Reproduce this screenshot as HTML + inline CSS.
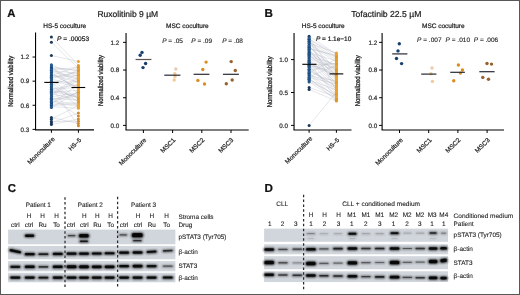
<!DOCTYPE html>
<html><head><meta charset="utf-8"><style>
html,body{margin:0;padding:0;background:#fff;}
body{width:520px;height:295px;overflow:hidden;}
svg{display:block;font-family:"Liberation Sans", sans-serif;will-change:transform;text-rendering:geometricPrecision;}
</style></head><body>
<svg width="520" height="295" viewBox="0 0 520 295">
<defs><filter id="bl" x="-50%" y="-100%" width="200%" height="300%"><feGaussianBlur stdDeviation="0.8"/></filter></defs>
<rect x="0" y="0" width="520" height="295" fill="#fff"/>
<text x="7.2" y="16.8" font-size="11.3" text-anchor="start" font-weight="bold" fill="#111" stroke="#111" stroke-width="0.22"  style="">A</text>
<text x="127.8" y="16.9" font-size="8.5" text-anchor="middle" font-weight="normal" fill="#222" stroke="#222" stroke-width="0.22"  style="">Ruxolitinib 9 µM</text>
<text x="0" y="0" font-size="7" text-anchor="middle" fill="#222" stroke="#222" stroke-width="0.3" transform="translate(12.9 81.3) rotate(-90) scale(0.846 1)">Normalized viability</text>
<text x="64.7" y="28" font-size="6.5" text-anchor="middle" font-weight="normal" fill="#222" stroke="#222" stroke-width="0.22"  style="">HS-5 coculture</text>
<line x1="35.55" y1="32.6" x2="35.55" y2="130" stroke="#000" stroke-width="1.1" />
<line x1="32.55" y1="57.040000000000006" x2="35.55" y2="57.040000000000006" stroke="#000" stroke-width="1.0" />
<text x="29.3" y="59.34" font-size="6.3" text-anchor="end" font-weight="normal" fill="#333" stroke="#333" stroke-width="0.22"  style="">1.2</text>
<line x1="32.55" y1="81.16" x2="35.55" y2="81.16" stroke="#000" stroke-width="1.0" />
<text x="29.3" y="83.46" font-size="6.3" text-anchor="end" font-weight="normal" fill="#333" stroke="#333" stroke-width="0.22"  style="">0.9</text>
<line x1="32.55" y1="105.28" x2="35.55" y2="105.28" stroke="#000" stroke-width="1.0" />
<text x="29.3" y="107.58" font-size="6.3" text-anchor="end" font-weight="normal" fill="#333" stroke="#333" stroke-width="0.22"  style="">0.6</text>
<line x1="32.55" y1="129.4" x2="35.55" y2="129.4" stroke="#000" stroke-width="1.0" />
<text x="29.3" y="131.70000000000002" font-size="6.3" text-anchor="end" font-weight="normal" fill="#333" stroke="#333" stroke-width="0.22"  style="">0.3</text>
<line x1="35.05" y1="129.9" x2="94" y2="129.9" stroke="#000" stroke-width="1.1" />
<line x1="51.4" y1="130" x2="51.4" y2="132.8" stroke="#000" stroke-width="1" />
<line x1="78.4" y1="130" x2="78.4" y2="132.8" stroke="#000" stroke-width="1" />
<text x="55.2" y="139.5" font-size="6.5" text-anchor="end" font-weight="normal" fill="#222" stroke="#222" stroke-width="0.22" transform="rotate(-45 55.2 139.5)" style="">Monoculture</text>
<text x="81.5" y="140.5" font-size="6.0" text-anchor="end" font-weight="normal" fill="#222" stroke="#222" stroke-width="0.22" transform="rotate(-45 81.5 140.5)" style="">HS–5</text>
<text x="57" y="40.6" font-size="6.6" text-anchor="start" font-weight="normal" fill="#222" stroke="#222" stroke-width="0.22"  style=""><tspan font-style="italic">P</tspan> = .00053</text>
<g stroke="#aeb3bd" stroke-width="0.5" stroke-opacity="0.62"><line x1="51.4" y1="37.02" x2="78.4" y2="65.39"/><line x1="51.4" y1="42.17" x2="78.4" y2="68.40"/><line x1="51.4" y1="55.59" x2="78.4" y2="61.46"/><line x1="51.4" y1="107.55" x2="78.4" y2="91.44"/><line x1="51.4" y1="106.55" x2="78.4" y2="108.24"/><line x1="51.4" y1="105.60" x2="78.4" y2="104.14"/><line x1="51.4" y1="104.58" x2="78.4" y2="102.73"/><line x1="51.4" y1="103.81" x2="78.4" y2="84.16"/><line x1="51.4" y1="102.76" x2="78.4" y2="92.35"/><line x1="51.4" y1="102.50" x2="78.4" y2="106.24"/><line x1="51.4" y1="101.27" x2="78.4" y2="103.49"/><line x1="51.4" y1="100.01" x2="78.4" y2="95.88"/><line x1="51.4" y1="99.31" x2="78.4" y2="93.86"/><line x1="51.4" y1="98.22" x2="78.4" y2="100.26"/><line x1="51.4" y1="97.88" x2="78.4" y2="115.97"/><line x1="51.4" y1="96.71" x2="78.4" y2="92.83"/><line x1="51.4" y1="95.96" x2="78.4" y2="80.35"/><line x1="51.4" y1="94.83" x2="78.4" y2="78.21"/><line x1="51.4" y1="93.89" x2="78.4" y2="76.40"/><line x1="51.4" y1="93.39" x2="78.4" y2="100.69"/><line x1="51.4" y1="92.33" x2="78.4" y2="90.46"/><line x1="51.4" y1="91.37" x2="78.4" y2="97.12"/><line x1="51.4" y1="89.99" x2="78.4" y2="96.17"/><line x1="51.4" y1="89.19" x2="78.4" y2="87.41"/><line x1="51.4" y1="88.72" x2="78.4" y2="85.05"/><line x1="51.4" y1="87.34" x2="78.4" y2="98.52"/><line x1="51.4" y1="86.91" x2="78.4" y2="125.86"/><line x1="51.4" y1="85.64" x2="78.4" y2="74.27"/><line x1="51.4" y1="85.09" x2="78.4" y2="69.18"/><line x1="51.4" y1="84.27" x2="78.4" y2="106.89"/><line x1="51.4" y1="82.72" x2="78.4" y2="101.73"/><line x1="51.4" y1="82.29" x2="78.4" y2="81.69"/><line x1="51.4" y1="81.37" x2="78.4" y2="86.40"/><line x1="51.4" y1="79.90" x2="78.4" y2="98.73"/><line x1="51.4" y1="79.07" x2="78.4" y2="85.51"/><line x1="51.4" y1="78.58" x2="78.4" y2="71.40"/><line x1="51.4" y1="77.18" x2="78.4" y2="75.34"/><line x1="51.4" y1="76.57" x2="78.4" y2="72.70"/><line x1="51.4" y1="75.56" x2="78.4" y2="66.65"/><line x1="51.4" y1="74.99" x2="78.4" y2="82.10"/><line x1="51.4" y1="73.54" x2="78.4" y2="89.03"/><line x1="51.4" y1="72.81" x2="78.4" y2="88.69"/><line x1="51.4" y1="71.69" x2="78.4" y2="79.44"/><line x1="51.4" y1="70.84" x2="78.4" y2="73.17"/><line x1="51.4" y1="70.36" x2="78.4" y2="78.51"/><line x1="51.4" y1="69.40" x2="78.4" y2="67.58"/><line x1="51.4" y1="68.63" x2="78.4" y2="70.07"/><line x1="51.4" y1="67.73" x2="78.4" y2="83.16"/><line x1="51.4" y1="66.88" x2="78.4" y2="70.79"/><line x1="51.4" y1="65.79" x2="78.4" y2="94.45"/><line x1="51.4" y1="64.66" x2="78.4" y2="76.68"/><line x1="51.4" y1="117.50" x2="78.4" y2="123.61"/><line x1="51.4" y1="119.19" x2="78.4" y2="105.38"/><line x1="51.4" y1="121.52" x2="78.4" y2="121.28"/><line x1="51.4" y1="122.97" x2="78.4" y2="113.00"/><line x1="51.4" y1="124.50" x2="78.4" y2="119.03"/></g>
<circle cx="51.40" cy="37.02" r="1.5" fill="#1a3658"/>
<circle cx="51.40" cy="42.17" r="1.5" fill="#1a3658"/>
<circle cx="51.40" cy="55.59" r="1.5" fill="#1a3658"/>
<circle cx="51.40" cy="107.55" r="1.5" fill="#1d4676"/>
<circle cx="51.40" cy="106.55" r="1.5" fill="#25598f"/>
<circle cx="51.40" cy="105.60" r="1.5" fill="#25598f"/>
<circle cx="51.40" cy="104.58" r="1.5" fill="#1d4676"/>
<circle cx="51.40" cy="103.81" r="1.5" fill="#25598f"/>
<circle cx="51.40" cy="102.76" r="1.5" fill="#25598f"/>
<circle cx="51.40" cy="102.50" r="1.5" fill="#1d4676"/>
<circle cx="51.40" cy="101.27" r="1.5" fill="#25598f"/>
<circle cx="51.40" cy="100.01" r="1.5" fill="#25598f"/>
<circle cx="51.40" cy="99.31" r="1.5" fill="#1d4676"/>
<circle cx="51.40" cy="98.22" r="1.5" fill="#25598f"/>
<circle cx="51.40" cy="97.88" r="1.5" fill="#25598f"/>
<circle cx="51.40" cy="96.71" r="1.5" fill="#1d4676"/>
<circle cx="51.40" cy="95.96" r="1.5" fill="#25598f"/>
<circle cx="51.40" cy="94.83" r="1.5" fill="#25598f"/>
<circle cx="51.40" cy="93.89" r="1.5" fill="#1d4676"/>
<circle cx="51.40" cy="93.39" r="1.5" fill="#25598f"/>
<circle cx="51.40" cy="92.33" r="1.5" fill="#25598f"/>
<circle cx="51.40" cy="91.37" r="1.5" fill="#1d4676"/>
<circle cx="51.40" cy="89.99" r="1.5" fill="#25598f"/>
<circle cx="51.40" cy="89.19" r="1.5" fill="#25598f"/>
<circle cx="51.40" cy="88.72" r="1.5" fill="#1d4676"/>
<circle cx="51.40" cy="87.34" r="1.5" fill="#25598f"/>
<circle cx="51.40" cy="86.91" r="1.5" fill="#25598f"/>
<circle cx="51.40" cy="85.64" r="1.5" fill="#1d4676"/>
<circle cx="51.40" cy="85.09" r="1.5" fill="#25598f"/>
<circle cx="51.40" cy="84.27" r="1.5" fill="#25598f"/>
<circle cx="51.40" cy="82.72" r="1.5" fill="#1d4676"/>
<circle cx="51.40" cy="82.29" r="1.5" fill="#25598f"/>
<circle cx="51.40" cy="81.37" r="1.5" fill="#25598f"/>
<circle cx="51.40" cy="79.90" r="1.5" fill="#1d4676"/>
<circle cx="51.40" cy="79.07" r="1.5" fill="#25598f"/>
<circle cx="51.40" cy="78.58" r="1.5" fill="#25598f"/>
<circle cx="51.40" cy="77.18" r="1.5" fill="#1d4676"/>
<circle cx="51.40" cy="76.57" r="1.5" fill="#25598f"/>
<circle cx="51.40" cy="75.56" r="1.5" fill="#25598f"/>
<circle cx="51.40" cy="74.99" r="1.5" fill="#1d4676"/>
<circle cx="51.40" cy="73.54" r="1.5" fill="#25598f"/>
<circle cx="51.40" cy="72.81" r="1.5" fill="#25598f"/>
<circle cx="51.40" cy="71.69" r="1.5" fill="#1d4676"/>
<circle cx="51.40" cy="70.84" r="1.5" fill="#25598f"/>
<circle cx="51.40" cy="70.36" r="1.5" fill="#25598f"/>
<circle cx="51.40" cy="69.40" r="1.5" fill="#1d4676"/>
<circle cx="51.40" cy="68.63" r="1.5" fill="#25598f"/>
<circle cx="51.40" cy="67.73" r="1.5" fill="#25598f"/>
<circle cx="51.40" cy="66.88" r="1.5" fill="#1d4676"/>
<circle cx="51.40" cy="65.79" r="1.5" fill="#25598f"/>
<circle cx="51.40" cy="64.66" r="1.5" fill="#25598f"/>
<circle cx="51.40" cy="117.50" r="1.5" fill="#1a3658"/>
<circle cx="51.40" cy="119.19" r="1.5" fill="#1a3658"/>
<circle cx="51.40" cy="121.52" r="1.5" fill="#1a3658"/>
<circle cx="51.40" cy="122.97" r="1.5" fill="#1a3658"/>
<circle cx="51.40" cy="124.50" r="1.5" fill="#1a3658"/>
<circle cx="78.40" cy="65.39" r="1.5" fill="#df9629"/>
<circle cx="78.40" cy="68.40" r="1.5" fill="#eca22f"/>
<circle cx="78.40" cy="61.46" r="1.5" fill="#eca22f"/>
<circle cx="78.40" cy="91.44" r="1.5" fill="#df9629"/>
<circle cx="78.40" cy="108.24" r="1.5" fill="#eca22f"/>
<circle cx="78.40" cy="104.14" r="1.5" fill="#eca22f"/>
<circle cx="78.40" cy="102.73" r="1.5" fill="#df9629"/>
<circle cx="78.40" cy="84.16" r="1.5" fill="#eca22f"/>
<circle cx="78.40" cy="92.35" r="1.5" fill="#eca22f"/>
<circle cx="78.40" cy="106.24" r="1.5" fill="#df9629"/>
<circle cx="78.40" cy="103.49" r="1.5" fill="#eca22f"/>
<circle cx="78.40" cy="95.88" r="1.5" fill="#eca22f"/>
<circle cx="78.40" cy="93.86" r="1.5" fill="#df9629"/>
<circle cx="78.40" cy="100.26" r="1.5" fill="#eca22f"/>
<circle cx="78.40" cy="115.97" r="1.5" fill="#d08a2a"/>
<circle cx="78.40" cy="92.83" r="1.5" fill="#df9629"/>
<circle cx="78.40" cy="80.35" r="1.5" fill="#eca22f"/>
<circle cx="78.40" cy="78.21" r="1.5" fill="#eca22f"/>
<circle cx="78.40" cy="76.40" r="1.5" fill="#df9629"/>
<circle cx="78.40" cy="100.69" r="1.5" fill="#eca22f"/>
<circle cx="78.40" cy="90.46" r="1.5" fill="#eca22f"/>
<circle cx="78.40" cy="97.12" r="1.5" fill="#df9629"/>
<circle cx="78.40" cy="96.17" r="1.5" fill="#eca22f"/>
<circle cx="78.40" cy="87.41" r="1.5" fill="#eca22f"/>
<circle cx="78.40" cy="85.05" r="1.5" fill="#df9629"/>
<circle cx="78.40" cy="98.52" r="1.5" fill="#eca22f"/>
<circle cx="78.40" cy="125.86" r="1.5" fill="#d08a2a"/>
<circle cx="78.40" cy="74.27" r="1.5" fill="#df9629"/>
<circle cx="78.40" cy="69.18" r="1.5" fill="#eca22f"/>
<circle cx="78.40" cy="106.89" r="1.5" fill="#eca22f"/>
<circle cx="78.40" cy="101.73" r="1.5" fill="#df9629"/>
<circle cx="78.40" cy="81.69" r="1.5" fill="#eca22f"/>
<circle cx="78.40" cy="86.40" r="1.5" fill="#eca22f"/>
<circle cx="78.40" cy="98.73" r="1.5" fill="#df9629"/>
<circle cx="78.40" cy="85.51" r="1.5" fill="#eca22f"/>
<circle cx="78.40" cy="71.40" r="1.5" fill="#eca22f"/>
<circle cx="78.40" cy="75.34" r="1.5" fill="#df9629"/>
<circle cx="78.40" cy="72.70" r="1.5" fill="#eca22f"/>
<circle cx="78.40" cy="66.65" r="1.5" fill="#eca22f"/>
<circle cx="78.40" cy="82.10" r="1.5" fill="#df9629"/>
<circle cx="78.40" cy="89.03" r="1.5" fill="#eca22f"/>
<circle cx="78.40" cy="88.69" r="1.5" fill="#eca22f"/>
<circle cx="78.40" cy="79.44" r="1.5" fill="#df9629"/>
<circle cx="78.40" cy="73.17" r="1.5" fill="#eca22f"/>
<circle cx="78.40" cy="78.51" r="1.5" fill="#eca22f"/>
<circle cx="78.40" cy="67.58" r="1.5" fill="#df9629"/>
<circle cx="78.40" cy="70.07" r="1.5" fill="#eca22f"/>
<circle cx="78.40" cy="83.16" r="1.5" fill="#eca22f"/>
<circle cx="78.40" cy="70.79" r="1.5" fill="#df9629"/>
<circle cx="78.40" cy="94.45" r="1.5" fill="#eca22f"/>
<circle cx="78.40" cy="76.68" r="1.5" fill="#eca22f"/>
<circle cx="78.40" cy="123.61" r="1.5" fill="#d08a2a"/>
<circle cx="78.40" cy="105.38" r="1.5" fill="#eca22f"/>
<circle cx="78.40" cy="121.28" r="1.5" fill="#d08a2a"/>
<circle cx="78.40" cy="113.00" r="1.5" fill="#d08a2a"/>
<circle cx="78.40" cy="119.03" r="1.5" fill="#d08a2a"/>
<line x1="44.3" y1="82.4" x2="58.6" y2="82.4" stroke="#000" stroke-width="1.1" />
<line x1="71.5" y1="87.5" x2="85.2" y2="87.5" stroke="#000" stroke-width="1.1" />
<text x="0" y="0" font-size="7" text-anchor="middle" fill="#222" stroke="#222" stroke-width="0.3" transform="translate(103.2 80.6) rotate(-90) scale(0.846 1)">Normalized viability</text>
<text x="187.4" y="27.6" font-size="6.5" text-anchor="middle" font-weight="normal" fill="#222" stroke="#222" stroke-width="0.22"  style="">MSC coculture</text>
<line x1="126.05" y1="32.9" x2="126.05" y2="130" stroke="#000" stroke-width="1.1" />
<line x1="123.05" y1="42.36" x2="126.05" y2="42.36" stroke="#000" stroke-width="1.0" />
<text x="119.3" y="44.66" font-size="6.3" text-anchor="end" font-weight="normal" fill="#333" stroke="#333" stroke-width="0.22"  style="">1.2</text>
<line x1="123.05" y1="70.03999999999999" x2="126.05" y2="70.03999999999999" stroke="#000" stroke-width="1.0" />
<text x="119.3" y="72.33999999999999" font-size="6.3" text-anchor="end" font-weight="normal" fill="#333" stroke="#333" stroke-width="0.22"  style="">0.8</text>
<line x1="123.05" y1="97.72" x2="126.05" y2="97.72" stroke="#000" stroke-width="1.0" />
<text x="119.3" y="100.02" font-size="6.3" text-anchor="end" font-weight="normal" fill="#333" stroke="#333" stroke-width="0.22"  style="">0.4</text>
<line x1="123.05" y1="125.4" x2="126.05" y2="125.4" stroke="#000" stroke-width="1.0" />
<text x="119.3" y="127.7" font-size="6.3" text-anchor="end" font-weight="normal" fill="#333" stroke="#333" stroke-width="0.22"  style="">0.0</text>
<line x1="125.55" y1="130" x2="248.7" y2="130" stroke="#000" stroke-width="1.1" />
<line x1="143.4" y1="130" x2="143.4" y2="133" stroke="#000" stroke-width="1" />
<line x1="172.6" y1="130" x2="172.6" y2="133" stroke="#000" stroke-width="1" />
<line x1="201.8" y1="130" x2="201.8" y2="133" stroke="#000" stroke-width="1" />
<line x1="231.0" y1="130" x2="231.0" y2="133" stroke="#000" stroke-width="1" />
<text x="146.89999999999998" y="140.5" font-size="6.5" text-anchor="end" font-weight="normal" fill="#222" stroke="#222" stroke-width="0.22" transform="rotate(-45 146.89999999999998 140.5)" style="">Monoculture</text>
<text x="175.89999999999998" y="140.5" font-size="6.5" text-anchor="end" font-weight="normal" fill="#222" stroke="#222" stroke-width="0.22" transform="rotate(-45 175.89999999999998 140.5)" style="">MSC1</text>
<text x="204.79999999999998" y="140.5" font-size="6.5" text-anchor="end" font-weight="normal" fill="#222" stroke="#222" stroke-width="0.22" transform="rotate(-45 204.79999999999998 140.5)" style="">MSC2</text>
<text x="233.79999999999998" y="140.5" font-size="6.5" text-anchor="end" font-weight="normal" fill="#222" stroke="#222" stroke-width="0.22" transform="rotate(-45 233.79999999999998 140.5)" style="">MSC3</text>
<text x="162.2" y="42.9" font-size="6.5" text-anchor="start" font-weight="normal" fill="#222" stroke="#222" stroke-width="0.12"  style=""><tspan font-style="italic">P</tspan> = .05</text>
<text x="191.3" y="42.9" font-size="6.5" text-anchor="start" font-weight="normal" fill="#222" stroke="#222" stroke-width="0.12"  style=""><tspan font-style="italic">P</tspan> = .09</text>
<text x="222.2" y="42.9" font-size="6.5" text-anchor="start" font-weight="normal" fill="#222" stroke="#222" stroke-width="0.12"  style=""><tspan font-style="italic">P</tspan> = .08</text>
<circle cx="142.00" cy="52.40" r="1.7" fill="#173f6e"/>
<circle cx="140.20" cy="55.20" r="1.7" fill="#173f6e"/>
<circle cx="145.60" cy="63.50" r="1.7" fill="#173f6e"/>
<circle cx="143.00" cy="67.60" r="1.7" fill="#173f6e"/>
<line x1="135.6" y1="59.5" x2="151.4" y2="59.5" stroke="#5a5450" stroke-width="1.2" />
<circle cx="175.80" cy="69.00" r="1.7" fill="#e6cbb0"/>
<circle cx="174.80" cy="73.80" r="1.7" fill="#f3c99a"/>
<circle cx="175.00" cy="76.40" r="1.7" fill="#f3c99a"/>
<circle cx="174.20" cy="80.00" r="1.7" fill="#f3c99a"/>
<line x1="164.3" y1="75.2" x2="180.4" y2="75.2" stroke="#262a33" stroke-width="1.2" />
<circle cx="206.10" cy="62.10" r="1.7" fill="#dc8c1c"/>
<circle cx="202.80" cy="69.50" r="1.7" fill="#dc8c1c"/>
<circle cx="197.90" cy="80.40" r="1.7" fill="#dc8c1c"/>
<circle cx="204.50" cy="84.00" r="1.7" fill="#dc8c1c"/>
<line x1="193.6" y1="74.3" x2="209.4" y2="74.3" stroke="#262a33" stroke-width="1.2" />
<circle cx="231.20" cy="61.60" r="1.7" fill="#98602a"/>
<circle cx="235.30" cy="70.50" r="1.7" fill="#98602a"/>
<circle cx="232.20" cy="80.00" r="1.7" fill="#98602a"/>
<circle cx="226.30" cy="83.80" r="1.7" fill="#98602a"/>
<line x1="222.9" y1="74.3" x2="238.9" y2="74.3" stroke="#262a33" stroke-width="1.2" />
<text x="264.5" y="16.9" font-size="11.6" text-anchor="start" font-weight="bold" fill="#111" stroke="#111" stroke-width="0.22"  style="">B</text>
<text x="386.3" y="17" font-size="8.62" text-anchor="middle" font-weight="normal" fill="#222" stroke="#222" stroke-width="0.22"  style="">Tofactinib 22.5 µM</text>
<text x="0" y="0" font-size="7" text-anchor="middle" fill="#222" stroke="#222" stroke-width="0.3" transform="translate(271.5 81.8) rotate(-90) scale(0.846 1)">Normalized viability</text>
<text x="323.2" y="28" font-size="6.5" text-anchor="middle" font-weight="normal" fill="#222" stroke="#222" stroke-width="0.22"  style="">HS-5 coculture</text>
<line x1="294.05" y1="33.1" x2="294.05" y2="130" stroke="#000" stroke-width="1.1" />
<line x1="291.05" y1="59.60000000000001" x2="294.05" y2="59.60000000000001" stroke="#000" stroke-width="1.0" />
<text x="288.1" y="61.900000000000006" font-size="6.3" text-anchor="end" font-weight="normal" fill="#333" stroke="#333" stroke-width="0.22"  style="">1.0</text>
<line x1="291.05" y1="92.5" x2="294.05" y2="92.5" stroke="#000" stroke-width="1.0" />
<text x="288.1" y="94.8" font-size="6.3" text-anchor="end" font-weight="normal" fill="#333" stroke="#333" stroke-width="0.22"  style="">0.5</text>
<line x1="291.05" y1="125.4" x2="294.05" y2="125.4" stroke="#000" stroke-width="1.0" />
<text x="288.1" y="127.7" font-size="6.3" text-anchor="end" font-weight="normal" fill="#333" stroke="#333" stroke-width="0.22"  style="">0.0</text>
<line x1="293.55" y1="130" x2="351.5" y2="130" stroke="#000" stroke-width="1.1" />
<line x1="309.1" y1="130" x2="309.1" y2="132.8" stroke="#000" stroke-width="1" />
<line x1="336.4" y1="130" x2="336.4" y2="132.8" stroke="#000" stroke-width="1" />
<text x="312.9" y="139.0" font-size="6.5" text-anchor="end" font-weight="normal" fill="#222" stroke="#222" stroke-width="0.22" transform="rotate(-45 312.9 139.0)" style="">Monoculture</text>
<text x="339.5" y="140.5" font-size="6.0" text-anchor="end" font-weight="normal" fill="#222" stroke="#222" stroke-width="0.22" transform="rotate(-45 339.5 140.5)" style="">HS–5</text>
<text x="315.9" y="40.9" font-size="6.5" text-anchor="start" font-weight="normal" fill="#222" stroke="#222" stroke-width="0.22"  style=""><tspan font-style="italic">P</tspan> = 1.1e−10</text>
<g stroke="#aeb3bd" stroke-width="0.5" stroke-opacity="0.62"><line x1="309.1" y1="36.24" x2="336.4" y2="53.97"/><line x1="309.1" y1="81.90" x2="336.4" y2="99.17"/><line x1="309.1" y1="80.96" x2="336.4" y2="95.27"/><line x1="309.1" y1="79.84" x2="336.4" y2="90.01"/><line x1="309.1" y1="79.29" x2="336.4" y2="95.80"/><line x1="309.1" y1="78.40" x2="336.4" y2="100.41"/><line x1="309.1" y1="77.47" x2="336.4" y2="83.89"/><line x1="309.1" y1="76.89" x2="336.4" y2="65.31"/><line x1="309.1" y1="75.79" x2="336.4" y2="80.93"/><line x1="309.1" y1="74.84" x2="336.4" y2="98.70"/><line x1="309.1" y1="73.86" x2="336.4" y2="94.52"/><line x1="309.1" y1="73.48" x2="336.4" y2="88.38"/><line x1="309.1" y1="72.47" x2="336.4" y2="59.12"/><line x1="309.1" y1="71.75" x2="336.4" y2="82.17"/><line x1="309.1" y1="70.38" x2="336.4" y2="86.54"/><line x1="309.1" y1="69.60" x2="336.4" y2="67.12"/><line x1="309.1" y1="69.18" x2="336.4" y2="86.98"/><line x1="309.1" y1="67.66" x2="336.4" y2="62.84"/><line x1="309.1" y1="66.81" x2="336.4" y2="93.47"/><line x1="309.1" y1="66.16" x2="336.4" y2="91.41"/><line x1="309.1" y1="65.32" x2="336.4" y2="75.01"/><line x1="309.1" y1="64.77" x2="336.4" y2="63.73"/><line x1="309.1" y1="64.00" x2="336.4" y2="73.72"/><line x1="309.1" y1="62.78" x2="336.4" y2="76.30"/><line x1="309.1" y1="62.24" x2="336.4" y2="98.05"/><line x1="309.1" y1="61.28" x2="336.4" y2="89.23"/><line x1="309.1" y1="60.38" x2="336.4" y2="85.39"/><line x1="309.1" y1="59.66" x2="336.4" y2="82.63"/><line x1="309.1" y1="58.49" x2="336.4" y2="68.36"/><line x1="309.1" y1="57.64" x2="336.4" y2="80.42"/><line x1="309.1" y1="56.49" x2="336.4" y2="64.45"/><line x1="309.1" y1="55.85" x2="336.4" y2="73.31"/><line x1="309.1" y1="54.90" x2="336.4" y2="78.59"/><line x1="309.1" y1="54.13" x2="336.4" y2="70.37"/><line x1="309.1" y1="53.15" x2="336.4" y2="65.88"/><line x1="309.1" y1="52.43" x2="336.4" y2="60.97"/><line x1="309.1" y1="51.68" x2="336.4" y2="75.54"/><line x1="309.1" y1="50.32" x2="336.4" y2="72.30"/><line x1="309.1" y1="49.45" x2="336.4" y2="84.59"/><line x1="309.1" y1="48.69" x2="336.4" y2="55.46"/><line x1="309.1" y1="47.92" x2="336.4" y2="56.40"/><line x1="309.1" y1="47.32" x2="336.4" y2="68.03"/><line x1="309.1" y1="46.52" x2="336.4" y2="71.10"/><line x1="309.1" y1="45.61" x2="336.4" y2="79.33"/><line x1="309.1" y1="44.89" x2="336.4" y2="61.61"/><line x1="309.1" y1="43.54" x2="336.4" y2="59.84"/><line x1="309.1" y1="42.93" x2="336.4" y2="53.11"/><line x1="309.1" y1="41.76" x2="336.4" y2="58.18"/><line x1="309.1" y1="41.21" x2="336.4" y2="69.87"/><line x1="309.1" y1="39.94" x2="336.4" y2="90.98"/><line x1="309.1" y1="39.15" x2="336.4" y2="54.37"/><line x1="309.1" y1="38.87" x2="336.4" y2="56.94"/><line x1="309.1" y1="37.86" x2="336.4" y2="77.67"/><line x1="309.1" y1="87.57" x2="336.4" y2="96.78"/><line x1="309.1" y1="89.54" x2="336.4" y2="100.98"/><line x1="309.1" y1="125.40" x2="336.4" y2="92.14"/></g>
<circle cx="309.10" cy="36.24" r="1.5" fill="#1a3658"/>
<circle cx="309.10" cy="81.90" r="1.5" fill="#25598f"/>
<circle cx="309.10" cy="80.96" r="1.5" fill="#25598f"/>
<circle cx="309.10" cy="79.84" r="1.5" fill="#1d4676"/>
<circle cx="309.10" cy="79.29" r="1.5" fill="#25598f"/>
<circle cx="309.10" cy="78.40" r="1.5" fill="#25598f"/>
<circle cx="309.10" cy="77.47" r="1.5" fill="#1d4676"/>
<circle cx="309.10" cy="76.89" r="1.5" fill="#25598f"/>
<circle cx="309.10" cy="75.79" r="1.5" fill="#25598f"/>
<circle cx="309.10" cy="74.84" r="1.5" fill="#1d4676"/>
<circle cx="309.10" cy="73.86" r="1.5" fill="#25598f"/>
<circle cx="309.10" cy="73.48" r="1.5" fill="#25598f"/>
<circle cx="309.10" cy="72.47" r="1.5" fill="#1d4676"/>
<circle cx="309.10" cy="71.75" r="1.5" fill="#25598f"/>
<circle cx="309.10" cy="70.38" r="1.5" fill="#25598f"/>
<circle cx="309.10" cy="69.60" r="1.5" fill="#1d4676"/>
<circle cx="309.10" cy="69.18" r="1.5" fill="#25598f"/>
<circle cx="309.10" cy="67.66" r="1.5" fill="#25598f"/>
<circle cx="309.10" cy="66.81" r="1.5" fill="#1d4676"/>
<circle cx="309.10" cy="66.16" r="1.5" fill="#25598f"/>
<circle cx="309.10" cy="65.32" r="1.5" fill="#25598f"/>
<circle cx="309.10" cy="64.77" r="1.5" fill="#1d4676"/>
<circle cx="309.10" cy="64.00" r="1.5" fill="#25598f"/>
<circle cx="309.10" cy="62.78" r="1.5" fill="#25598f"/>
<circle cx="309.10" cy="62.24" r="1.5" fill="#1d4676"/>
<circle cx="309.10" cy="61.28" r="1.5" fill="#25598f"/>
<circle cx="309.10" cy="60.38" r="1.5" fill="#25598f"/>
<circle cx="309.10" cy="59.66" r="1.5" fill="#1d4676"/>
<circle cx="309.10" cy="58.49" r="1.5" fill="#25598f"/>
<circle cx="309.10" cy="57.64" r="1.5" fill="#25598f"/>
<circle cx="309.10" cy="56.49" r="1.5" fill="#1d4676"/>
<circle cx="309.10" cy="55.85" r="1.5" fill="#25598f"/>
<circle cx="309.10" cy="54.90" r="1.5" fill="#25598f"/>
<circle cx="309.10" cy="54.13" r="1.5" fill="#1d4676"/>
<circle cx="309.10" cy="53.15" r="1.5" fill="#25598f"/>
<circle cx="309.10" cy="52.43" r="1.5" fill="#25598f"/>
<circle cx="309.10" cy="51.68" r="1.5" fill="#1d4676"/>
<circle cx="309.10" cy="50.32" r="1.5" fill="#25598f"/>
<circle cx="309.10" cy="49.45" r="1.5" fill="#25598f"/>
<circle cx="309.10" cy="48.69" r="1.5" fill="#1d4676"/>
<circle cx="309.10" cy="47.92" r="1.5" fill="#25598f"/>
<circle cx="309.10" cy="47.32" r="1.5" fill="#25598f"/>
<circle cx="309.10" cy="46.52" r="1.5" fill="#1d4676"/>
<circle cx="309.10" cy="45.61" r="1.5" fill="#25598f"/>
<circle cx="309.10" cy="44.89" r="1.5" fill="#25598f"/>
<circle cx="309.10" cy="43.54" r="1.5" fill="#1d4676"/>
<circle cx="309.10" cy="42.93" r="1.5" fill="#25598f"/>
<circle cx="309.10" cy="41.76" r="1.5" fill="#25598f"/>
<circle cx="309.10" cy="41.21" r="1.5" fill="#1d4676"/>
<circle cx="309.10" cy="39.94" r="1.5" fill="#25598f"/>
<circle cx="309.10" cy="39.15" r="1.5" fill="#25598f"/>
<circle cx="309.10" cy="38.87" r="1.5" fill="#1d4676"/>
<circle cx="309.10" cy="37.86" r="1.5" fill="#25598f"/>
<circle cx="309.10" cy="87.57" r="1.5" fill="#1a3658"/>
<circle cx="309.10" cy="89.54" r="1.5" fill="#1a3658"/>
<circle cx="309.10" cy="125.40" r="1.5" fill="#1a3658"/>
<circle cx="336.40" cy="53.97" r="1.5" fill="#df9629"/>
<circle cx="336.40" cy="99.17" r="1.5" fill="#eca22f"/>
<circle cx="336.40" cy="95.27" r="1.5" fill="#eca22f"/>
<circle cx="336.40" cy="90.01" r="1.5" fill="#df9629"/>
<circle cx="336.40" cy="95.80" r="1.5" fill="#eca22f"/>
<circle cx="336.40" cy="100.41" r="1.5" fill="#eca22f"/>
<circle cx="336.40" cy="83.89" r="1.5" fill="#df9629"/>
<circle cx="336.40" cy="65.31" r="1.5" fill="#eca22f"/>
<circle cx="336.40" cy="80.93" r="1.5" fill="#eca22f"/>
<circle cx="336.40" cy="98.70" r="1.5" fill="#df9629"/>
<circle cx="336.40" cy="94.52" r="1.5" fill="#eca22f"/>
<circle cx="336.40" cy="88.38" r="1.5" fill="#eca22f"/>
<circle cx="336.40" cy="59.12" r="1.5" fill="#df9629"/>
<circle cx="336.40" cy="82.17" r="1.5" fill="#eca22f"/>
<circle cx="336.40" cy="86.54" r="1.5" fill="#eca22f"/>
<circle cx="336.40" cy="67.12" r="1.5" fill="#df9629"/>
<circle cx="336.40" cy="86.98" r="1.5" fill="#eca22f"/>
<circle cx="336.40" cy="62.84" r="1.5" fill="#eca22f"/>
<circle cx="336.40" cy="93.47" r="1.5" fill="#df9629"/>
<circle cx="336.40" cy="91.41" r="1.5" fill="#eca22f"/>
<circle cx="336.40" cy="75.01" r="1.5" fill="#eca22f"/>
<circle cx="336.40" cy="63.73" r="1.5" fill="#df9629"/>
<circle cx="336.40" cy="73.72" r="1.5" fill="#eca22f"/>
<circle cx="336.40" cy="76.30" r="1.5" fill="#eca22f"/>
<circle cx="336.40" cy="98.05" r="1.5" fill="#df9629"/>
<circle cx="336.40" cy="89.23" r="1.5" fill="#eca22f"/>
<circle cx="336.40" cy="85.39" r="1.5" fill="#eca22f"/>
<circle cx="336.40" cy="82.63" r="1.5" fill="#df9629"/>
<circle cx="336.40" cy="68.36" r="1.5" fill="#eca22f"/>
<circle cx="336.40" cy="80.42" r="1.5" fill="#eca22f"/>
<circle cx="336.40" cy="64.45" r="1.5" fill="#df9629"/>
<circle cx="336.40" cy="73.31" r="1.5" fill="#eca22f"/>
<circle cx="336.40" cy="78.59" r="1.5" fill="#eca22f"/>
<circle cx="336.40" cy="70.37" r="1.5" fill="#df9629"/>
<circle cx="336.40" cy="65.88" r="1.5" fill="#eca22f"/>
<circle cx="336.40" cy="60.97" r="1.5" fill="#eca22f"/>
<circle cx="336.40" cy="75.54" r="1.5" fill="#df9629"/>
<circle cx="336.40" cy="72.30" r="1.5" fill="#eca22f"/>
<circle cx="336.40" cy="84.59" r="1.5" fill="#eca22f"/>
<circle cx="336.40" cy="55.46" r="1.5" fill="#df9629"/>
<circle cx="336.40" cy="56.40" r="1.5" fill="#eca22f"/>
<circle cx="336.40" cy="68.03" r="1.5" fill="#eca22f"/>
<circle cx="336.40" cy="71.10" r="1.5" fill="#df9629"/>
<circle cx="336.40" cy="79.33" r="1.5" fill="#eca22f"/>
<circle cx="336.40" cy="61.61" r="1.5" fill="#eca22f"/>
<circle cx="336.40" cy="59.84" r="1.5" fill="#df9629"/>
<circle cx="336.40" cy="53.11" r="1.5" fill="#eca22f"/>
<circle cx="336.40" cy="58.18" r="1.5" fill="#eca22f"/>
<circle cx="336.40" cy="69.87" r="1.5" fill="#df9629"/>
<circle cx="336.40" cy="90.98" r="1.5" fill="#eca22f"/>
<circle cx="336.40" cy="54.37" r="1.5" fill="#eca22f"/>
<circle cx="336.40" cy="56.94" r="1.5" fill="#df9629"/>
<circle cx="336.40" cy="77.67" r="1.5" fill="#eca22f"/>
<circle cx="336.40" cy="96.78" r="1.5" fill="#eca22f"/>
<circle cx="336.40" cy="100.98" r="1.5" fill="#df9629"/>
<circle cx="336.40" cy="92.14" r="1.5" fill="#eca22f"/>
<line x1="302.3" y1="64.3" x2="316.5" y2="64.3" stroke="#000" stroke-width="1.1" />
<line x1="329.5" y1="73.9" x2="343.3" y2="73.9" stroke="#000" stroke-width="1.1" />
<text x="0" y="0" font-size="7" text-anchor="middle" fill="#222" stroke="#222" stroke-width="0.3" transform="translate(360.4 80.8) rotate(-90) scale(0.846 1)">Normalized viability</text>
<text x="443.3" y="27.5" font-size="6.5" text-anchor="middle" font-weight="normal" fill="#222" stroke="#222" stroke-width="0.22"  style="">MSC coculture</text>
<line x1="382.1" y1="33" x2="382.1" y2="130" stroke="#000" stroke-width="1.1" />
<line x1="379.1" y1="42.36" x2="382.1" y2="42.36" stroke="#000" stroke-width="1.0" />
<text x="377.2" y="44.66" font-size="6.3" text-anchor="end" font-weight="normal" fill="#333" stroke="#333" stroke-width="0.22"  style="">1.2</text>
<line x1="379.1" y1="70.03999999999999" x2="382.1" y2="70.03999999999999" stroke="#000" stroke-width="1.0" />
<text x="377.2" y="72.33999999999999" font-size="6.3" text-anchor="end" font-weight="normal" fill="#333" stroke="#333" stroke-width="0.22"  style="">0.8</text>
<line x1="379.1" y1="97.72" x2="382.1" y2="97.72" stroke="#000" stroke-width="1.0" />
<text x="377.2" y="100.02" font-size="6.3" text-anchor="end" font-weight="normal" fill="#333" stroke="#333" stroke-width="0.22"  style="">0.4</text>
<line x1="379.1" y1="125.4" x2="382.1" y2="125.4" stroke="#000" stroke-width="1.0" />
<text x="377.2" y="127.7" font-size="6.3" text-anchor="end" font-weight="normal" fill="#333" stroke="#333" stroke-width="0.22"  style="">0.0</text>
<line x1="381.6" y1="130" x2="504" y2="130" stroke="#000" stroke-width="1.1" />
<line x1="399.5" y1="130" x2="399.5" y2="133" stroke="#000" stroke-width="1" />
<line x1="428.7" y1="130" x2="428.7" y2="133" stroke="#000" stroke-width="1" />
<line x1="457.9" y1="130" x2="457.9" y2="133" stroke="#000" stroke-width="1" />
<line x1="487.1" y1="130" x2="487.1" y2="133" stroke="#000" stroke-width="1" />
<text x="403.3" y="140.5" font-size="6.5" text-anchor="end" font-weight="normal" fill="#222" stroke="#222" stroke-width="0.22" transform="rotate(-45 403.3 140.5)" style="">Monoculture</text>
<text x="432.09999999999997" y="140.5" font-size="6.5" text-anchor="end" font-weight="normal" fill="#222" stroke="#222" stroke-width="0.22" transform="rotate(-45 432.09999999999997 140.5)" style="">MSC1</text>
<text x="460.9" y="140.5" font-size="6.5" text-anchor="end" font-weight="normal" fill="#222" stroke="#222" stroke-width="0.22" transform="rotate(-45 460.9 140.5)" style="">MSC2</text>
<text x="490.3" y="140.5" font-size="6.5" text-anchor="end" font-weight="normal" fill="#222" stroke="#222" stroke-width="0.22" transform="rotate(-45 490.3 140.5)" style="">MSC3</text>
<text x="417.1" y="42.4" font-size="6.5" text-anchor="start" font-weight="normal" fill="#222" stroke="#222" stroke-width="0.12"  style=""><tspan font-style="italic">P</tspan> = .007</text>
<text x="445.6" y="42.4" font-size="6.5" text-anchor="start" font-weight="normal" fill="#222" stroke="#222" stroke-width="0.12"  style=""><tspan font-style="italic">P</tspan> = .010</text>
<text x="473.8" y="42.4" font-size="6.5" text-anchor="start" font-weight="normal" fill="#222" stroke="#222" stroke-width="0.12"  style=""><tspan font-style="italic">P</tspan> = .006</text>
<circle cx="399.30" cy="43.80" r="1.7" fill="#173f6e"/>
<circle cx="398.00" cy="50.90" r="1.7" fill="#173f6e"/>
<circle cx="396.50" cy="58.50" r="1.7" fill="#173f6e"/>
<circle cx="401.60" cy="63.60" r="1.7" fill="#173f6e"/>
<line x1="392.2" y1="53.9" x2="407.4" y2="53.9" stroke="#262a33" stroke-width="1.2" />
<circle cx="432.00" cy="68.00" r="1.7" fill="#e6cbb0"/>
<circle cx="431.00" cy="73.70" r="1.7" fill="#f3c99a"/>
<circle cx="432.40" cy="81.40" r="1.7" fill="#f3c99a"/>
<line x1="421.2" y1="74.1" x2="436.4" y2="74.1" stroke="#262a33" stroke-width="1.2" />
<circle cx="458.40" cy="65.00" r="1.7" fill="#dc8c1c"/>
<circle cx="462.40" cy="70.00" r="1.7" fill="#dc8c1c"/>
<circle cx="460.40" cy="73.10" r="1.7" fill="#dc8c1c"/>
<circle cx="453.70" cy="80.80" r="1.7" fill="#dc8c1c"/>
<line x1="450.2" y1="72.3" x2="464.9" y2="72.3" stroke="#262a33" stroke-width="1.2" />
<circle cx="487.00" cy="63.50" r="1.7" fill="#98602a"/>
<circle cx="491.50" cy="64.10" r="1.7" fill="#98602a"/>
<circle cx="482.80" cy="77.40" r="1.7" fill="#98602a"/>
<circle cx="488.50" cy="79.20" r="1.7" fill="#98602a"/>
<line x1="479.3" y1="71.7" x2="494.6" y2="71.7" stroke="#262a33" stroke-width="1.2" />
<text x="7.7" y="192.3" font-size="11.4" text-anchor="start" font-weight="bold" fill="#111" stroke="#111" stroke-width="0.22"  style="">C</text>
<text x="38.3" y="207.1" font-size="6.4" text-anchor="middle" font-weight="normal" fill="#222" stroke="#222" stroke-width="0.1"  style="">Patient 1</text>
<text x="90.3" y="207.1" font-size="6.4" text-anchor="middle" font-weight="normal" fill="#222" stroke="#222" stroke-width="0.1"  style="">Patient 2</text>
<text x="143.5" y="207.1" font-size="6.4" text-anchor="middle" font-weight="normal" fill="#222" stroke="#222" stroke-width="0.1"  style="">Patient 3</text>
<text x="15.3" y="226.5" font-size="6.4" text-anchor="middle" font-weight="normal" fill="#222" stroke="#222" stroke-width="0.1"  style="">ctrl</text>
<text x="29.0" y="218.2" font-size="6.4" text-anchor="middle" font-weight="normal" fill="#222" stroke="#222" stroke-width="0.1"  style="">H</text>
<text x="29.0" y="226.5" font-size="6.4" text-anchor="middle" font-weight="normal" fill="#222" stroke="#222" stroke-width="0.1"  style="">ctrl</text>
<text x="42.6" y="218.2" font-size="6.4" text-anchor="middle" font-weight="normal" fill="#222" stroke="#222" stroke-width="0.1"  style="">H</text>
<text x="42.6" y="226.5" font-size="6.4" text-anchor="middle" font-weight="normal" fill="#222" stroke="#222" stroke-width="0.1"  style="">Ru</text>
<text x="56.5" y="218.2" font-size="6.4" text-anchor="middle" font-weight="normal" fill="#222" stroke="#222" stroke-width="0.1"  style="">H</text>
<text x="56.5" y="226.5" font-size="6.4" text-anchor="middle" font-weight="normal" fill="#222" stroke="#222" stroke-width="0.1"  style="">To</text>
<text x="71.0" y="226.5" font-size="6.4" text-anchor="middle" font-weight="normal" fill="#222" stroke="#222" stroke-width="0.1"  style="">ctrl</text>
<text x="84.3" y="218.2" font-size="6.4" text-anchor="middle" font-weight="normal" fill="#222" stroke="#222" stroke-width="0.1"  style="">H</text>
<text x="84.3" y="226.5" font-size="6.4" text-anchor="middle" font-weight="normal" fill="#222" stroke="#222" stroke-width="0.1"  style="">ctrl</text>
<text x="97.3" y="218.2" font-size="6.4" text-anchor="middle" font-weight="normal" fill="#222" stroke="#222" stroke-width="0.1"  style="">H</text>
<text x="97.3" y="226.5" font-size="6.4" text-anchor="middle" font-weight="normal" fill="#222" stroke="#222" stroke-width="0.1"  style="">Ru</text>
<text x="110.6" y="218.2" font-size="6.4" text-anchor="middle" font-weight="normal" fill="#222" stroke="#222" stroke-width="0.1"  style="">H</text>
<text x="110.6" y="226.5" font-size="6.4" text-anchor="middle" font-weight="normal" fill="#222" stroke="#222" stroke-width="0.1"  style="">To</text>
<text x="124.0" y="226.5" font-size="6.4" text-anchor="middle" font-weight="normal" fill="#222" stroke="#222" stroke-width="0.1"  style="">ctrl</text>
<text x="138.0" y="218.2" font-size="6.4" text-anchor="middle" font-weight="normal" fill="#222" stroke="#222" stroke-width="0.1"  style="">H</text>
<text x="138.0" y="226.5" font-size="6.4" text-anchor="middle" font-weight="normal" fill="#222" stroke="#222" stroke-width="0.1"  style="">ctrl</text>
<text x="151.8" y="218.2" font-size="6.4" text-anchor="middle" font-weight="normal" fill="#222" stroke="#222" stroke-width="0.1"  style="">H</text>
<text x="151.8" y="226.5" font-size="6.4" text-anchor="middle" font-weight="normal" fill="#222" stroke="#222" stroke-width="0.1"  style="">Ru</text>
<text x="166.6" y="218.2" font-size="6.4" text-anchor="middle" font-weight="normal" fill="#222" stroke="#222" stroke-width="0.1"  style="">H</text>
<text x="166.6" y="226.5" font-size="6.4" text-anchor="middle" font-weight="normal" fill="#222" stroke="#222" stroke-width="0.1"  style="">To</text>
<text x="178.4" y="218.6" font-size="6.4" text-anchor="start" font-weight="normal" fill="#222" stroke="#222" stroke-width="0.1"  style="">Stroma cells</text>
<text x="178.4" y="226.5" font-size="6.4" text-anchor="start" font-weight="normal" fill="#222" stroke="#222" stroke-width="0.1"  style="">Drug</text>
<text x="178.4" y="238.8" font-size="6.4" text-anchor="start" font-weight="normal" fill="#222" stroke="#222" stroke-width="0.1"  style="">pSTAT3 (Tyr705)</text>
<text x="178.4" y="254.2" font-size="6.4" text-anchor="start" font-weight="normal" fill="#222" stroke="#222" stroke-width="0.1"  style="">β-actin</text>
<text x="178.4" y="268.4" font-size="6.4" text-anchor="start" font-weight="normal" fill="#222" stroke="#222" stroke-width="0.1"  style="">STAT3</text>
<text x="178.4" y="279.9" font-size="6.4" text-anchor="start" font-weight="normal" fill="#222" stroke="#222" stroke-width="0.1"  style="">β-actin</text>
<rect x="8.1" y="229.6" width="167.3" height="14.700000000000017" fill="#d1d6dc"/>
<rect x="8.1" y="245.9" width="167.3" height="13.400000000000006" fill="#d1d6dc"/>
<rect x="8.1" y="261.1" width="167.3" height="10.199999999999989" fill="#d1d6dc"/>
<rect x="8.1" y="272.8" width="167.3" height="9.5" fill="#d1d6dc"/>
<g transform="rotate(0 29.6 235.8)"><rect x="24.10" y="234.01" width="11" height="3.58" rx="1.79" fill="#000" fill-opacity="0.80" filter="url(#bl)"/><rect x="25.10" y="234.51" width="9" height="2.38" rx="1.29" fill="#000" fill-opacity="0.85"/></g>
<g transform="rotate(0 71.6 235.8)"><rect x="66.85" y="234.54" width="9.5" height="2.52" rx="1.26" fill="#000" fill-opacity="0.49" filter="url(#bl)"/><rect x="67.85" y="235.04" width="7.5" height="1.32" rx="0.76" fill="#000" fill-opacity="0.52"/></g>
<g transform="rotate(0 83.9 235.8)"><rect x="78.15" y="233.40" width="11.5" height="4.8" rx="2" fill="#000" fill-opacity="0.80" filter="url(#bl)"/><rect x="79.15" y="233.90" width="9.5" height="3.60" rx="1.50" fill="#000" fill-opacity="0.85"/></g>
<g transform="rotate(0 83.9 241.4)"><rect x="78.90" y="240.10" width="10" height="2.6" rx="1.3" fill="#000" fill-opacity="0.72" filter="url(#bl)"/><rect x="79.90" y="240.60" width="8" height="1.40" rx="0.80" fill="#000" fill-opacity="0.77"/></g>
<g transform="rotate(0 123.2 235.0)"><rect x="118.45" y="233.78" width="9.5" height="2.44" rx="1.22" fill="#000" fill-opacity="0.46" filter="url(#bl)"/><rect x="119.45" y="234.28" width="7.5" height="1.24" rx="0.72" fill="#000" fill-opacity="0.48"/></g>
<g transform="rotate(0 137.3 235.3)"><rect x="131.05" y="232.60" width="12.5" height="5.4" rx="2" fill="#000" fill-opacity="0.80" filter="url(#bl)"/><rect x="132.05" y="233.10" width="10.5" height="4.20" rx="1.50" fill="#000" fill-opacity="0.85"/></g>
<g transform="rotate(0 137.3 240.8)"><rect x="132.05" y="239.60" width="10.5" height="2.4" rx="1.2" fill="#000" fill-opacity="0.60" filter="url(#bl)"/><rect x="133.05" y="240.10" width="8.5" height="1.20" rx="0.70" fill="#000" fill-opacity="0.64"/></g>
<g transform="rotate(12 15.3 251.3)"><rect x="8.55" y="249.51" width="13.5" height="3.58" rx="1.79" fill="#000" fill-opacity="0.80" filter="url(#bl)"/><rect x="9.55" y="250.01" width="11.5" height="2.38" rx="1.29" fill="#000" fill-opacity="0.85"/></g>
<g transform="rotate(0 29.8 254.3)"><rect x="23.90" y="252.62" width="11.8" height="3.36" rx="1.68" fill="#000" fill-opacity="0.80" filter="url(#bl)"/><rect x="24.90" y="253.12" width="9.8" height="2.16" rx="1.18" fill="#000" fill-opacity="0.85"/></g>
<g transform="rotate(0 43.4 254.3)"><rect x="37.50" y="252.84" width="11.8" height="2.92" rx="1.46" fill="#000" fill-opacity="0.65" filter="url(#bl)"/><rect x="38.50" y="253.34" width="9.8" height="1.72" rx="0.96" fill="#000" fill-opacity="0.69"/></g>
<g transform="rotate(0 57.8 254.0)"><rect x="51.90" y="252.26" width="11.8" height="3.47" rx="1.735" fill="#000" fill-opacity="0.80" filter="url(#bl)"/><rect x="52.90" y="252.76" width="9.8" height="2.27" rx="1.24" fill="#000" fill-opacity="0.85"/></g>
<g transform="rotate(0 71.6 253.8)"><rect x="65.70" y="252.06" width="11.8" height="3.47" rx="1.735" fill="#000" fill-opacity="0.80" filter="url(#bl)"/><rect x="66.70" y="252.56" width="9.8" height="2.27" rx="1.24" fill="#000" fill-opacity="0.85"/></g>
<g transform="rotate(0 84.0 253.8)"><rect x="78.10" y="252.06" width="11.8" height="3.47" rx="1.735" fill="#000" fill-opacity="0.80" filter="url(#bl)"/><rect x="79.10" y="252.56" width="9.8" height="2.27" rx="1.24" fill="#000" fill-opacity="0.85"/></g>
<g transform="rotate(0 96.8 253.6)"><rect x="90.90" y="251.92" width="11.8" height="3.36" rx="1.68" fill="#000" fill-opacity="0.80" filter="url(#bl)"/><rect x="91.90" y="252.42" width="9.8" height="2.16" rx="1.18" fill="#000" fill-opacity="0.85"/></g>
<g transform="rotate(0 109.6 253.4)"><rect x="103.70" y="251.78" width="11.8" height="3.25" rx="1.625" fill="#000" fill-opacity="0.78" filter="url(#bl)"/><rect x="104.70" y="252.28" width="9.8" height="2.05" rx="1.12" fill="#000" fill-opacity="0.83"/></g>
<g transform="rotate(0 124.1 252.8)"><rect x="118.20" y="251.12" width="11.8" height="3.36" rx="1.68" fill="#000" fill-opacity="0.80" filter="url(#bl)"/><rect x="119.20" y="251.62" width="9.8" height="2.16" rx="1.18" fill="#000" fill-opacity="0.85"/></g>
<g transform="rotate(0 137.6 252.6)"><rect x="131.70" y="250.86" width="11.8" height="3.47" rx="1.735" fill="#000" fill-opacity="0.80" filter="url(#bl)"/><rect x="132.70" y="251.36" width="9.8" height="2.27" rx="1.24" fill="#000" fill-opacity="0.85"/></g>
<g transform="rotate(-3 151.6 251.8)"><rect x="145.70" y="250.18" width="11.8" height="3.25" rx="1.625" fill="#000" fill-opacity="0.78" filter="url(#bl)"/><rect x="146.70" y="250.68" width="9.8" height="2.05" rx="1.12" fill="#000" fill-opacity="0.83"/></g>
<g transform="rotate(-3 167.8 250.8)"><rect x="161.90" y="249.40" width="11.8" height="2.81" rx="1.405" fill="#000" fill-opacity="0.61" filter="url(#bl)"/><rect x="162.90" y="249.90" width="9.8" height="1.61" rx="0.91" fill="#000" fill-opacity="0.65"/></g>
<g transform="rotate(0 15.3 266.9)"><rect x="9.40" y="265.19" width="11.8" height="3.42" rx="1.71" fill="#000" fill-opacity="0.74" filter="url(#bl)"/><rect x="10.40" y="265.69" width="9.8" height="2.22" rx="1.21" fill="#000" fill-opacity="0.78"/></g>
<g transform="rotate(0 29.8 266.9)"><rect x="23.90" y="265.00" width="11.8" height="3.81" rx="1.905" fill="#000" fill-opacity="0.80" filter="url(#bl)"/><rect x="24.90" y="265.50" width="9.8" height="2.61" rx="1.41" fill="#000" fill-opacity="0.85"/></g>
<g transform="rotate(0 43.4 266.9)"><rect x="37.50" y="265.45" width="11.8" height="2.9" rx="1.45" fill="#000" fill-opacity="0.56" filter="url(#bl)"/><rect x="38.50" y="265.95" width="9.8" height="1.70" rx="0.95" fill="#000" fill-opacity="0.59"/></g>
<g transform="rotate(0 57.8 266.9)"><rect x="51.90" y="265.00" width="11.8" height="3.81" rx="1.905" fill="#000" fill-opacity="0.80" filter="url(#bl)"/><rect x="52.90" y="265.50" width="9.8" height="2.61" rx="1.41" fill="#000" fill-opacity="0.85"/></g>
<g transform="rotate(0 71.6 266.9)"><rect x="65.70" y="264.86" width="11.8" height="4.07" rx="2" fill="#000" fill-opacity="0.80" filter="url(#bl)"/><rect x="66.70" y="265.36" width="9.8" height="2.87" rx="1.50" fill="#000" fill-opacity="0.85"/></g>
<g transform="rotate(0 84.0 266.9)"><rect x="78.10" y="264.80" width="11.8" height="4.2" rx="2" fill="#000" fill-opacity="0.80" filter="url(#bl)"/><rect x="79.10" y="265.30" width="9.8" height="3.00" rx="1.50" fill="#000" fill-opacity="0.85"/></g>
<g transform="rotate(0 96.8 266.9)"><rect x="90.90" y="264.93" width="11.8" height="3.94" rx="1.97" fill="#000" fill-opacity="0.80" filter="url(#bl)"/><rect x="91.90" y="265.43" width="9.8" height="2.74" rx="1.47" fill="#000" fill-opacity="0.85"/></g>
<g transform="rotate(0 109.6 266.9)"><rect x="103.70" y="264.93" width="11.8" height="3.94" rx="1.97" fill="#000" fill-opacity="0.80" filter="url(#bl)"/><rect x="104.70" y="265.43" width="9.8" height="2.74" rx="1.47" fill="#000" fill-opacity="0.85"/></g>
<g transform="rotate(0 124.1 266.2)"><rect x="118.20" y="264.43" width="11.8" height="3.55" rx="1.775" fill="#000" fill-opacity="0.78" filter="url(#bl)"/><rect x="119.20" y="264.93" width="9.8" height="2.35" rx="1.27" fill="#000" fill-opacity="0.83"/></g>
<g transform="rotate(0 137.6 266.2)"><rect x="131.70" y="264.16" width="11.8" height="4.07" rx="2" fill="#000" fill-opacity="0.80" filter="url(#bl)"/><rect x="132.70" y="264.66" width="9.8" height="2.87" rx="1.50" fill="#000" fill-opacity="0.85"/></g>
<g transform="rotate(0 151.6 266.2)"><rect x="145.70" y="264.49" width="11.8" height="3.42" rx="1.71" fill="#000" fill-opacity="0.74" filter="url(#bl)"/><rect x="146.70" y="264.99" width="9.8" height="2.22" rx="1.21" fill="#000" fill-opacity="0.78"/></g>
<g transform="rotate(0 167.8 266.2)"><rect x="161.90" y="264.94" width="11.8" height="2.51" rx="1.255" fill="#000" fill-opacity="0.43" filter="url(#bl)"/><rect x="162.90" y="265.44" width="9.8" height="1.31" rx="0.75" fill="#000" fill-opacity="0.46"/></g>
<g transform="rotate(0 15.3 277.7)"><rect x="9.40" y="276.05" width="11.8" height="3.3" rx="1.65" fill="#000" fill-opacity="0.80" filter="url(#bl)"/><rect x="10.40" y="276.55" width="9.8" height="2.10" rx="1.15" fill="#000" fill-opacity="0.85"/></g>
<g transform="rotate(0 29.8 277.7)"><rect x="23.90" y="276.05" width="11.8" height="3.3" rx="1.65" fill="#000" fill-opacity="0.80" filter="url(#bl)"/><rect x="24.90" y="276.55" width="9.8" height="2.10" rx="1.15" fill="#000" fill-opacity="0.85"/></g>
<g transform="rotate(0 43.4 277.7)"><rect x="37.50" y="276.20" width="11.8" height="3.0" rx="1.5" fill="#000" fill-opacity="0.74" filter="url(#bl)"/><rect x="38.50" y="276.70" width="9.8" height="1.80" rx="1.00" fill="#000" fill-opacity="0.78"/></g>
<g transform="rotate(0 57.8 277.7)"><rect x="51.90" y="276.00" width="11.8" height="3.4" rx="1.7" fill="#000" fill-opacity="0.80" filter="url(#bl)"/><rect x="52.90" y="276.50" width="9.8" height="2.20" rx="1.20" fill="#000" fill-opacity="0.85"/></g>
<g transform="rotate(0 71.6 277.7)"><rect x="65.70" y="276.00" width="11.8" height="3.4" rx="1.7" fill="#000" fill-opacity="0.80" filter="url(#bl)"/><rect x="66.70" y="276.50" width="9.8" height="2.20" rx="1.20" fill="#000" fill-opacity="0.85"/></g>
<g transform="rotate(0 84.0 277.7)"><rect x="78.10" y="276.00" width="11.8" height="3.4" rx="1.7" fill="#000" fill-opacity="0.80" filter="url(#bl)"/><rect x="79.10" y="276.50" width="9.8" height="2.20" rx="1.20" fill="#000" fill-opacity="0.85"/></g>
<g transform="rotate(0 96.8 277.7)"><rect x="90.90" y="276.00" width="11.8" height="3.4" rx="1.7" fill="#000" fill-opacity="0.80" filter="url(#bl)"/><rect x="91.90" y="276.50" width="9.8" height="2.20" rx="1.20" fill="#000" fill-opacity="0.85"/></g>
<g transform="rotate(0 109.6 277.7)"><rect x="103.70" y="276.00" width="11.8" height="3.4" rx="1.7" fill="#000" fill-opacity="0.80" filter="url(#bl)"/><rect x="104.70" y="276.50" width="9.8" height="2.20" rx="1.20" fill="#000" fill-opacity="0.85"/></g>
<g transform="rotate(0 124.1 277.7)"><rect x="118.20" y="276.05" width="11.8" height="3.3" rx="1.65" fill="#000" fill-opacity="0.80" filter="url(#bl)"/><rect x="119.20" y="276.55" width="9.8" height="2.10" rx="1.15" fill="#000" fill-opacity="0.85"/></g>
<g transform="rotate(0 137.6 277.7)"><rect x="131.70" y="276.00" width="11.8" height="3.4" rx="1.7" fill="#000" fill-opacity="0.80" filter="url(#bl)"/><rect x="132.70" y="276.50" width="9.8" height="2.20" rx="1.20" fill="#000" fill-opacity="0.85"/></g>
<g transform="rotate(0 151.6 277.7)"><rect x="145.70" y="276.05" width="11.8" height="3.3" rx="1.65" fill="#000" fill-opacity="0.80" filter="url(#bl)"/><rect x="146.70" y="276.55" width="9.8" height="2.10" rx="1.15" fill="#000" fill-opacity="0.85"/></g>
<g transform="rotate(0 167.8 277.7)"><rect x="161.90" y="276.10" width="11.8" height="3.2" rx="1.6" fill="#000" fill-opacity="0.80" filter="url(#bl)"/><rect x="162.90" y="276.60" width="9.8" height="2.00" rx="1.10" fill="#000" fill-opacity="0.85"/></g>
<path d="M65.0 197.20v2.5 M65.0 202.05v2.5 M65.0 206.90v2.5 M65.0 211.75v2.5 M65.0 216.60v2.5 M65.0 221.45v2.5 M65.0 226.30v2.5 M65.0 231.15v2.5 M65.0 236.00v2.5 M65.0 240.85v2.5 M65.0 245.70v2.5 M65.0 250.55v2.5 M65.0 255.40v2.5 M65.0 260.25v2.5 M65.0 265.10v2.5 M65.0 269.95v2.5 M65.0 274.80v2.5 M65.0 279.65v2.5 M65.0 284.50v2.5" stroke="#2a2a2a" stroke-width="1.25" fill="none"/>
<path d="M117.6 196.80v2.5 M117.6 201.65v2.5 M117.6 206.50v2.5 M117.6 211.35v2.5 M117.6 216.20v2.5 M117.6 221.05v2.5 M117.6 225.90v2.5 M117.6 230.75v2.5 M117.6 235.60v2.5 M117.6 240.45v2.5 M117.6 245.30v2.5 M117.6 250.15v2.5 M117.6 255.00v2.5 M117.6 259.85v2.5 M117.6 264.70v2.5 M117.6 269.55v2.5 M117.6 274.40v2.5 M117.6 279.25v2.5 M117.6 284.10v2.5" stroke="#2a2a2a" stroke-width="1.25" fill="none"/>
<text x="264.5" y="192.4" font-size="11.6" text-anchor="start" font-weight="bold" fill="#111" stroke="#111" stroke-width="0.22"  style="">D</text>
<text x="282.2" y="205.9" font-size="6.4" text-anchor="middle" font-weight="normal" fill="#222" stroke="#222" stroke-width="0.1"  style="">CLL</text>
<text x="381.1" y="205.9" font-size="6.55" text-anchor="middle" font-weight="normal" fill="#222" stroke="#222" stroke-width="0.1"  style="">CLL + conditioned medium</text>
<text x="269.9" y="225.6" font-size="6.4" text-anchor="middle" font-weight="normal" fill="#222" stroke="#222" stroke-width="0.1"  style="">1</text>
<text x="282.6" y="225.6" font-size="6.4" text-anchor="middle" font-weight="normal" fill="#222" stroke="#222" stroke-width="0.1"  style="">2</text>
<text x="295.7" y="225.6" font-size="6.4" text-anchor="middle" font-weight="normal" fill="#222" stroke="#222" stroke-width="0.1"  style="">3</text>
<text x="311.1" y="217.2" font-size="6.4" text-anchor="middle" font-weight="normal" fill="#222" stroke="#222" stroke-width="0.1"  style="">H</text>
<text x="311.1" y="225.6" font-size="6.4" text-anchor="middle" font-weight="normal" fill="#222" stroke="#222" stroke-width="0.1"  style="">1</text>
<text x="324.6" y="217.2" font-size="6.4" text-anchor="middle" font-weight="normal" fill="#222" stroke="#222" stroke-width="0.1"  style="">H</text>
<text x="324.6" y="225.6" font-size="6.4" text-anchor="middle" font-weight="normal" fill="#222" stroke="#222" stroke-width="0.1"  style="">2</text>
<text x="338.5" y="217.2" font-size="6.4" text-anchor="middle" font-weight="normal" fill="#222" stroke="#222" stroke-width="0.1"  style="">H</text>
<text x="338.5" y="225.6" font-size="6.4" text-anchor="middle" font-weight="normal" fill="#222" stroke="#222" stroke-width="0.1"  style="">3</text>
<text x="351.8" y="217.2" font-size="6.4" text-anchor="middle" font-weight="normal" fill="#222" stroke="#222" stroke-width="0.1"  style="">M1</text>
<text x="351.8" y="225.6" font-size="6.4" text-anchor="middle" font-weight="normal" fill="#222" stroke="#222" stroke-width="0.1"  style="">1</text>
<text x="365.9" y="217.2" font-size="6.4" text-anchor="middle" font-weight="normal" fill="#222" stroke="#222" stroke-width="0.1"  style="">M1</text>
<text x="365.9" y="225.6" font-size="6.4" text-anchor="middle" font-weight="normal" fill="#222" stroke="#222" stroke-width="0.1"  style="">2</text>
<text x="379.7" y="217.2" font-size="6.4" text-anchor="middle" font-weight="normal" fill="#222" stroke="#222" stroke-width="0.1"  style="">M1</text>
<text x="379.7" y="225.6" font-size="6.4" text-anchor="middle" font-weight="normal" fill="#222" stroke="#222" stroke-width="0.1"  style="">3</text>
<text x="393.6" y="217.2" font-size="6.4" text-anchor="middle" font-weight="normal" fill="#222" stroke="#222" stroke-width="0.1"  style="">M2</text>
<text x="393.6" y="225.6" font-size="6.4" text-anchor="middle" font-weight="normal" fill="#222" stroke="#222" stroke-width="0.1"  style="">1</text>
<text x="407.1" y="217.2" font-size="6.4" text-anchor="middle" font-weight="normal" fill="#222" stroke="#222" stroke-width="0.1"  style="">M2</text>
<text x="407.1" y="225.6" font-size="6.4" text-anchor="middle" font-weight="normal" fill="#222" stroke="#222" stroke-width="0.1"  style="">2</text>
<text x="419.9" y="217.2" font-size="6.4" text-anchor="middle" font-weight="normal" fill="#222" stroke="#222" stroke-width="0.1"  style="">M2</text>
<text x="419.9" y="225.6" font-size="6.4" text-anchor="middle" font-weight="normal" fill="#222" stroke="#222" stroke-width="0.1"  style="">3</text>
<text x="432.1" y="217.2" font-size="6.4" text-anchor="middle" font-weight="normal" fill="#222" stroke="#222" stroke-width="0.1"  style="">M3</text>
<text x="432.1" y="225.6" font-size="6.4" text-anchor="middle" font-weight="normal" fill="#222" stroke="#222" stroke-width="0.1"  style="">1</text>
<text x="443.8" y="217.2" font-size="6.4" text-anchor="middle" font-weight="normal" fill="#222" stroke="#222" stroke-width="0.1"  style="">M4</text>
<text x="443.8" y="225.6" font-size="6.4" text-anchor="middle" font-weight="normal" fill="#222" stroke="#222" stroke-width="0.1"  style="">1</text>
<text x="453.6" y="217.7" font-size="6.5" text-anchor="start" font-weight="normal" fill="#222" stroke="#222" stroke-width="0.1"  style="">Conditioned medium</text>
<text x="453.6" y="225.6" font-size="6.4" text-anchor="start" font-weight="normal" fill="#222" stroke="#222" stroke-width="0.1"  style="">Patient</text>
<text x="453.6" y="237" font-size="6.4" text-anchor="start" font-weight="normal" fill="#222" stroke="#222" stroke-width="0.1"  style="">pSTAT3 (Tyr705)</text>
<text x="453.6" y="250.6" font-size="6.4" text-anchor="start" font-weight="normal" fill="#222" stroke="#222" stroke-width="0.1"  style="">β-actin</text>
<text x="453.6" y="264.8" font-size="6.4" text-anchor="start" font-weight="normal" fill="#222" stroke="#222" stroke-width="0.1"  style="">STAT3</text>
<text x="453.6" y="277.5" font-size="6.4" text-anchor="start" font-weight="normal" fill="#222" stroke="#222" stroke-width="0.1"  style="">β-actin</text>
<rect x="264.1" y="228.6" width="183.89999999999998" height="13.200000000000017" fill="#d1d6dc"/>
<rect x="264.1" y="244.3" width="183.89999999999998" height="10.0" fill="#d1d6dc"/>
<rect x="264.1" y="256.2" width="183.89999999999998" height="13.0" fill="#d1d6dc"/>
<rect x="264.1" y="271.3" width="183.89999999999998" height="10.699999999999989" fill="#d1d6dc"/>
<g transform="rotate(0 310.9 233.8)"><rect x="305.90" y="232.80" width="10" height="2.0" rx="1.0" fill="#000" fill-opacity="0.31" filter="url(#bl)"/><rect x="306.90" y="233.30" width="8" height="0.80" rx="0.50" fill="#000" fill-opacity="0.33"/></g>
<g transform="rotate(0 323.9 233.8)"><rect x="318.90" y="232.95" width="10" height="1.71" rx="0.855" fill="#000" fill-opacity="0.18" filter="url(#bl)"/><rect x="319.90" y="233.45" width="8" height="0.60" rx="0.35" fill="#000" fill-opacity="0.19"/></g>
<g transform="rotate(0 338.0 233.8)"><rect x="333.00" y="232.93" width="10" height="1.74" rx="0.87" fill="#000" fill-opacity="0.19" filter="url(#bl)"/><rect x="334.00" y="233.43" width="8" height="0.60" rx="0.37" fill="#000" fill-opacity="0.20"/></g>
<g transform="rotate(0 352.4 233.8)"><rect x="347.40" y="232.24" width="10" height="3.13" rx="1.565" fill="#000" fill-opacity="0.80" filter="url(#bl)"/><rect x="348.40" y="232.74" width="8" height="1.93" rx="1.06" fill="#000" fill-opacity="0.85"/></g>
<g transform="rotate(0 365.9 233.8)"><rect x="360.90" y="232.89" width="10" height="1.82" rx="0.91" fill="#000" fill-opacity="0.22" filter="url(#bl)"/><rect x="361.90" y="233.39" width="8" height="0.62" rx="0.41" fill="#000" fill-opacity="0.24"/></g>
<g transform="rotate(0 379.7 233.8)"><rect x="374.70" y="232.89" width="10" height="1.82" rx="0.91" fill="#000" fill-opacity="0.22" filter="url(#bl)"/><rect x="375.70" y="233.39" width="8" height="0.62" rx="0.41" fill="#000" fill-opacity="0.24"/></g>
<g transform="rotate(0 394.6 233.2)"><rect x="389.60" y="231.68" width="10" height="3.04" rx="1.52" fill="#000" fill-opacity="0.80" filter="url(#bl)"/><rect x="390.60" y="232.18" width="8" height="1.84" rx="1.02" fill="#000" fill-opacity="0.85"/></g>
<g transform="rotate(0 407.3 233.2)"><rect x="402.30" y="232.35" width="10" height="1.69" rx="0.845" fill="#000" fill-opacity="0.17" filter="url(#bl)"/><rect x="403.30" y="232.85" width="8" height="0.60" rx="0.34" fill="#000" fill-opacity="0.18"/></g>
<g transform="rotate(0 420.2 233.2)"><rect x="415.20" y="232.34" width="10" height="1.71" rx="0.855" fill="#000" fill-opacity="0.18" filter="url(#bl)"/><rect x="416.20" y="232.84" width="8" height="0.60" rx="0.35" fill="#000" fill-opacity="0.19"/></g>
<g transform="rotate(0 433.1 233.2)"><rect x="428.60" y="231.86" width="9" height="2.68" rx="1.34" fill="#000" fill-opacity="0.65" filter="url(#bl)"/><rect x="429.60" y="232.36" width="7" height="1.48" rx="0.84" fill="#000" fill-opacity="0.69"/></g>
<g transform="rotate(0 443.6 233.2)"><rect x="440.10" y="232.15" width="7" height="2.1" rx="1.05" fill="#000" fill-opacity="0.37" filter="url(#bl)"/><rect x="441.10" y="232.65" width="5" height="0.90" rx="0.55" fill="#000" fill-opacity="0.39"/></g>
<g transform="rotate(0 352.4 238.6)"><rect x="348.40" y="237.80" width="8" height="1.6" rx="0.8" fill="#000" fill-opacity="0.12" filter="url(#bl)"/><rect x="349.40" y="238.30" width="6" height="0.60" rx="0.30" fill="#000" fill-opacity="0.13"/></g>
<g transform="rotate(0 394.6 238.6)"><rect x="390.60" y="237.80" width="8" height="1.6" rx="0.8" fill="#000" fill-opacity="0.10" filter="url(#bl)"/><rect x="391.60" y="238.30" width="6" height="0.60" rx="0.30" fill="#000" fill-opacity="0.10"/></g>
<g transform="rotate(0 310.9 238.6)"><rect x="306.90" y="237.80" width="8" height="1.6" rx="0.8" fill="#000" fill-opacity="0.10" filter="url(#bl)"/><rect x="307.90" y="238.30" width="6" height="0.60" rx="0.30" fill="#000" fill-opacity="0.10"/></g>
<g transform="rotate(0 433.1 238.6)"><rect x="429.10" y="237.80" width="8" height="1.6" rx="0.8" fill="#000" fill-opacity="0.08" filter="url(#bl)"/><rect x="430.10" y="238.30" width="6" height="0.60" rx="0.30" fill="#000" fill-opacity="0.09"/></g>
<g transform="rotate(0 269.2 249.6)"><rect x="263.45" y="247.70" width="11.5" height="3.8" rx="1.9" fill="#000" fill-opacity="0.80" filter="url(#bl)"/><rect x="264.45" y="248.20" width="9.5" height="2.60" rx="1.40" fill="#000" fill-opacity="0.85"/></g>
<g transform="rotate(0 282.9 249.4)"><rect x="277.15" y="248.16" width="11.5" height="2.48" rx="1.24" fill="#000" fill-opacity="0.47" filter="url(#bl)"/><rect x="278.15" y="248.66" width="9.5" height="1.28" rx="0.74" fill="#000" fill-opacity="0.50"/></g>
<g transform="rotate(0 297.3 249.2)"><rect x="291.55" y="247.91" width="11.5" height="2.59" rx="1.295" fill="#000" fill-opacity="0.52" filter="url(#bl)"/><rect x="292.55" y="248.41" width="9.5" height="1.39" rx="0.79" fill="#000" fill-opacity="0.55"/></g>
<g transform="rotate(0 310.9 249.4)"><rect x="305.15" y="247.50" width="11.5" height="3.8" rx="1.9" fill="#000" fill-opacity="0.80" filter="url(#bl)"/><rect x="306.15" y="248.00" width="9.5" height="2.60" rx="1.40" fill="#000" fill-opacity="0.85"/></g>
<g transform="rotate(0 323.9 249.0)"><rect x="318.15" y="247.81" width="11.5" height="2.37" rx="1.185" fill="#000" fill-opacity="0.43" filter="url(#bl)"/><rect x="319.15" y="248.31" width="9.5" height="1.17" rx="0.69" fill="#000" fill-opacity="0.46"/></g>
<g transform="rotate(0 338.0 248.8)"><rect x="332.25" y="247.34" width="11.5" height="2.92" rx="1.46" fill="#000" fill-opacity="0.65" filter="url(#bl)"/><rect x="333.25" y="247.84" width="9.5" height="1.72" rx="0.96" fill="#000" fill-opacity="0.69"/></g>
<g transform="rotate(0 352.4 248.6)"><rect x="346.65" y="246.70" width="11.5" height="3.8" rx="1.9" fill="#000" fill-opacity="0.80" filter="url(#bl)"/><rect x="347.65" y="247.20" width="9.5" height="2.60" rx="1.40" fill="#000" fill-opacity="0.85"/></g>
<g transform="rotate(0 365.9 248.6)"><rect x="360.15" y="247.25" width="11.5" height="2.7" rx="1.35" fill="#000" fill-opacity="0.56" filter="url(#bl)"/><rect x="361.15" y="247.75" width="9.5" height="1.50" rx="0.85" fill="#000" fill-opacity="0.59"/></g>
<g transform="rotate(0 379.7 248.6)"><rect x="373.95" y="247.14" width="11.5" height="2.92" rx="1.46" fill="#000" fill-opacity="0.65" filter="url(#bl)"/><rect x="374.95" y="247.64" width="9.5" height="1.72" rx="0.96" fill="#000" fill-opacity="0.69"/></g>
<g transform="rotate(0 394.6 248.6)"><rect x="388.85" y="246.70" width="11.5" height="3.8" rx="1.9" fill="#000" fill-opacity="0.80" filter="url(#bl)"/><rect x="389.85" y="247.20" width="9.5" height="2.60" rx="1.40" fill="#000" fill-opacity="0.85"/></g>
<g transform="rotate(0 407.3 248.6)"><rect x="401.55" y="247.41" width="11.5" height="2.37" rx="1.185" fill="#000" fill-opacity="0.43" filter="url(#bl)"/><rect x="402.55" y="247.91" width="9.5" height="1.17" rx="0.69" fill="#000" fill-opacity="0.46"/></g>
<g transform="rotate(0 420.2 248.6)"><rect x="414.45" y="247.25" width="11.5" height="2.7" rx="1.35" fill="#000" fill-opacity="0.56" filter="url(#bl)"/><rect x="415.45" y="247.75" width="9.5" height="1.50" rx="0.85" fill="#000" fill-opacity="0.59"/></g>
<g transform="rotate(0 433.1 248.6)"><rect x="427.85" y="246.70" width="10.5" height="3.8" rx="1.9" fill="#000" fill-opacity="0.80" filter="url(#bl)"/><rect x="428.85" y="247.20" width="8.5" height="2.60" rx="1.40" fill="#000" fill-opacity="0.85"/></g>
<g transform="rotate(0 443.6 248.4)"><rect x="439.35" y="246.50" width="8.5" height="3.8" rx="1.9" fill="#000" fill-opacity="0.80" filter="url(#bl)"/><rect x="440.35" y="247.00" width="6.5" height="2.60" rx="1.40" fill="#000" fill-opacity="0.85"/></g>
<g transform="rotate(0 269.2 262.6)"><rect x="263.45" y="260.30" width="11.5" height="4.6" rx="2" fill="#000" fill-opacity="0.80" filter="url(#bl)"/><rect x="264.45" y="260.80" width="9.5" height="3.40" rx="1.50" fill="#000" fill-opacity="0.85"/></g>
<g transform="rotate(0 282.9 262.8)"><rect x="277.15" y="261.48" width="11.5" height="2.65" rx="1.325" fill="#000" fill-opacity="0.43" filter="url(#bl)"/><rect x="278.15" y="261.98" width="9.5" height="1.45" rx="0.82" fill="#000" fill-opacity="0.46"/></g>
<g transform="rotate(0 297.3 263.0)"><rect x="291.55" y="261.93" width="11.5" height="2.14" rx="1.07" fill="#000" fill-opacity="0.28" filter="url(#bl)"/><rect x="292.55" y="262.43" width="9.5" height="0.94" rx="0.57" fill="#000" fill-opacity="0.30"/></g>
<g transform="rotate(0 310.9 263.6)"><rect x="305.15" y="261.30" width="11.5" height="4.6" rx="2" fill="#000" fill-opacity="0.80" filter="url(#bl)"/><rect x="306.15" y="261.80" width="9.5" height="3.40" rx="1.50" fill="#000" fill-opacity="0.85"/></g>
<g transform="rotate(0 323.9 263.4)"><rect x="318.15" y="262.15" width="11.5" height="2.5" rx="1.25" fill="#000" fill-opacity="0.38" filter="url(#bl)"/><rect x="319.15" y="262.65" width="9.5" height="1.30" rx="0.75" fill="#000" fill-opacity="0.41"/></g>
<g transform="rotate(0 338.0 263.2)"><rect x="332.25" y="262.02" width="11.5" height="2.35" rx="1.175" fill="#000" fill-opacity="0.34" filter="url(#bl)"/><rect x="333.25" y="262.52" width="9.5" height="1.15" rx="0.68" fill="#000" fill-opacity="0.37"/></g>
<g transform="rotate(0 352.4 263.0)"><rect x="346.65" y="260.70" width="11.5" height="4.6" rx="2" fill="#000" fill-opacity="0.80" filter="url(#bl)"/><rect x="347.65" y="261.20" width="9.5" height="3.40" rx="1.50" fill="#000" fill-opacity="0.85"/></g>
<g transform="rotate(0 365.9 262.8)"><rect x="360.15" y="261.55" width="11.5" height="2.5" rx="1.25" fill="#000" fill-opacity="0.38" filter="url(#bl)"/><rect x="361.15" y="262.05" width="9.5" height="1.30" rx="0.75" fill="#000" fill-opacity="0.41"/></g>
<g transform="rotate(0 379.7 262.6)"><rect x="373.95" y="261.38" width="11.5" height="2.44" rx="1.22" fill="#000" fill-opacity="0.37" filter="url(#bl)"/><rect x="374.95" y="261.88" width="9.5" height="1.24" rx="0.72" fill="#000" fill-opacity="0.39"/></g>
<g transform="rotate(0 394.6 262.6)"><rect x="388.85" y="260.30" width="11.5" height="4.6" rx="2" fill="#000" fill-opacity="0.80" filter="url(#bl)"/><rect x="389.85" y="260.80" width="9.5" height="3.40" rx="1.50" fill="#000" fill-opacity="0.85"/></g>
<g transform="rotate(0 407.3 262.4)"><rect x="401.55" y="261.18" width="11.5" height="2.44" rx="1.22" fill="#000" fill-opacity="0.37" filter="url(#bl)"/><rect x="402.55" y="261.68" width="9.5" height="1.24" rx="0.72" fill="#000" fill-opacity="0.39"/></g>
<g transform="rotate(0 420.2 262.2)"><rect x="414.45" y="261.02" width="11.5" height="2.35" rx="1.175" fill="#000" fill-opacity="0.34" filter="url(#bl)"/><rect x="415.45" y="261.52" width="9.5" height="1.15" rx="0.68" fill="#000" fill-opacity="0.37"/></g>
<g transform="rotate(0 433.1 261.6)"><rect x="427.85" y="259.30" width="10.5" height="4.6" rx="2" fill="#000" fill-opacity="0.80" filter="url(#bl)"/><rect x="428.85" y="259.80" width="8.5" height="3.40" rx="1.50" fill="#000" fill-opacity="0.85"/></g>
<g transform="rotate(-7 443.6 260.6)"><rect x="439.35" y="258.30" width="8.5" height="4.6" rx="2" fill="#000" fill-opacity="0.80" filter="url(#bl)"/><rect x="440.35" y="258.80" width="6.5" height="3.40" rx="1.50" fill="#000" fill-opacity="0.85"/></g>
<g transform="rotate(0 269.2 274.80388571428574)"><rect x="263.45" y="272.96" width="11.5" height="3.69" rx="1.845" fill="#000" fill-opacity="0.80" filter="url(#bl)"/><rect x="264.45" y="273.46" width="9.5" height="2.49" rx="1.34" fill="#000" fill-opacity="0.85"/></g>
<g transform="rotate(0 282.9 275.07005714285714)"><rect x="277.15" y="273.78" width="11.5" height="2.59" rx="1.295" fill="#000" fill-opacity="0.52" filter="url(#bl)"/><rect x="278.15" y="274.28" width="9.5" height="1.39" rx="0.79" fill="#000" fill-opacity="0.55"/></g>
<g transform="rotate(0 297.3 275.3498285714286)"><rect x="291.55" y="274.00" width="11.5" height="2.7" rx="1.35" fill="#000" fill-opacity="0.56" filter="url(#bl)"/><rect x="292.55" y="274.50" width="9.5" height="1.50" rx="0.85" fill="#000" fill-opacity="0.59"/></g>
<g transform="rotate(0 310.9 275.6140571428572)"><rect x="305.15" y="273.71" width="11.5" height="3.8" rx="1.9" fill="#000" fill-opacity="0.80" filter="url(#bl)"/><rect x="306.15" y="274.21" width="9.5" height="2.60" rx="1.40" fill="#000" fill-opacity="0.85"/></g>
<g transform="rotate(0 323.9 275.8666285714286)"><rect x="318.15" y="274.46" width="11.5" height="2.81" rx="1.405" fill="#000" fill-opacity="0.61" filter="url(#bl)"/><rect x="319.15" y="274.96" width="9.5" height="1.61" rx="0.91" fill="#000" fill-opacity="0.65"/></g>
<g transform="rotate(0 338.0 276.14057142857143)"><rect x="332.25" y="274.74" width="11.5" height="2.81" rx="1.405" fill="#000" fill-opacity="0.61" filter="url(#bl)"/><rect x="333.25" y="275.24" width="9.5" height="1.61" rx="0.91" fill="#000" fill-opacity="0.65"/></g>
<g transform="rotate(0 352.4 276.4203428571429)"><rect x="346.65" y="274.52" width="11.5" height="3.8" rx="1.9" fill="#000" fill-opacity="0.80" filter="url(#bl)"/><rect x="347.65" y="275.02" width="9.5" height="2.60" rx="1.40" fill="#000" fill-opacity="0.85"/></g>
<g transform="rotate(0 365.9 276.6826285714286)"><rect x="360.15" y="275.39" width="11.5" height="2.59" rx="1.295" fill="#000" fill-opacity="0.52" filter="url(#bl)"/><rect x="361.15" y="275.89" width="9.5" height="1.39" rx="0.79" fill="#000" fill-opacity="0.55"/></g>
<g transform="rotate(0 379.7 276.95074285714287)"><rect x="373.95" y="275.49" width="11.5" height="2.92" rx="1.46" fill="#000" fill-opacity="0.65" filter="url(#bl)"/><rect x="374.95" y="275.99" width="9.5" height="1.72" rx="0.96" fill="#000" fill-opacity="0.69"/></g>
<g transform="rotate(0 394.6 277.2402285714286)"><rect x="388.85" y="275.34" width="11.5" height="3.8" rx="1.9" fill="#000" fill-opacity="0.80" filter="url(#bl)"/><rect x="389.85" y="275.84" width="9.5" height="2.60" rx="1.40" fill="#000" fill-opacity="0.85"/></g>
<g transform="rotate(0 407.3 277.48697142857145)"><rect x="401.55" y="276.25" width="11.5" height="2.48" rx="1.24" fill="#000" fill-opacity="0.47" filter="url(#bl)"/><rect x="402.55" y="276.75" width="9.5" height="1.28" rx="0.74" fill="#000" fill-opacity="0.50"/></g>
<g transform="rotate(0 420.2 277.7376)"><rect x="414.45" y="276.39" width="11.5" height="2.7" rx="1.35" fill="#000" fill-opacity="0.56" filter="url(#bl)"/><rect x="415.45" y="276.89" width="9.5" height="1.50" rx="0.85" fill="#000" fill-opacity="0.59"/></g>
<g transform="rotate(0 433.1 277.9882285714286)"><rect x="427.85" y="276.09" width="10.5" height="3.8" rx="1.9" fill="#000" fill-opacity="0.80" filter="url(#bl)"/><rect x="428.85" y="276.59" width="8.5" height="2.60" rx="1.40" fill="#000" fill-opacity="0.85"/></g>
<g transform="rotate(0 443.6 278.1922285714286)"><rect x="439.35" y="276.29" width="8.5" height="3.8" rx="1.9" fill="#000" fill-opacity="0.80" filter="url(#bl)"/><rect x="440.35" y="276.79" width="6.5" height="2.60" rx="1.40" fill="#000" fill-opacity="0.85"/></g>
<path d="M303.6 194.70v2.5 M303.6 199.55v2.5 M303.6 204.40v2.5 M303.6 209.25v2.5 M303.6 214.10v2.5 M303.6 218.95v2.5 M303.6 223.80v2.5 M303.6 228.65v2.5 M303.6 233.50v2.5 M303.6 238.35v2.5 M303.6 243.20v2.5 M303.6 248.05v2.5 M303.6 252.90v2.5 M303.6 257.75v2.5 M303.6 262.60v2.5 M303.6 267.45v2.5 M303.6 272.30v2.5 M303.6 277.15v2.5 M303.6 282.00v2.5 M303.6 286.85v2.5" stroke="#2a2a2a" stroke-width="1.25" fill="none"/>
<rect x="0.5" y="0.5" width="519" height="294" fill="none" stroke="#585858" stroke-width="1"/>
</svg>
</body></html>
